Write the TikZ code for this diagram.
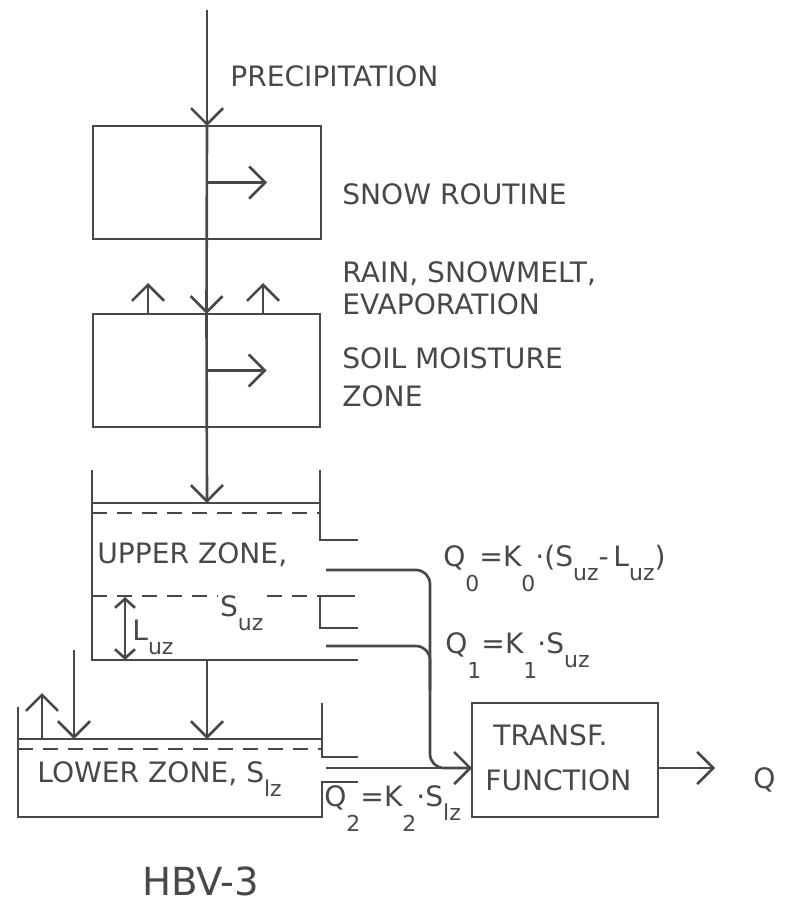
\documentclass[tikz,border=0pt]{standalone}
\usepackage{fontspec}
\setmainfont{DejaVu Sans}
\usetikzlibrary{arrows.meta,calc}
\definecolor{ink}{HTML}{484848}
\newcommand{\lowsub}[1]{\raisebox{-2.8mm}{\fontsize{12.5}{13}\selectfont #1}}
\newcommand{\numsub}[1]{\raisebox{-5mm}{\fontsize{12.5}{13}\selectfont #1}}
\tikzset{
  wall/.style={draw=ink, line width=1.5pt},
  level/.style={draw=ink, line width=1.2pt, dash pattern=on 3mm off 2mm},
  flow/.style={wall, -{Straight Barb[length=3.2mm, width=6.4mm]}},
  gauge/.style={wall, {Straight Barb[length=1.8mm, width=4mm]}-{Straight Barb[length=1.8mm, width=4mm]}},
  pipe/.style={wall, rounded corners=2.8mm},
  box/.style={wall, rectangle, inner sep=0pt, outer sep=0pt},
  lbl/.style={text=ink, font=\fontsize{16}{19}\selectfont, anchor=base west, inner sep=0pt}
}

\begin{document}
\begin{tikzpicture}[x=0.2mm, y=-0.2mm]
    \useasboundingbox (0,0) rectangle (784,908);

    \node[box, minimum width=45.6mm, minimum height=22.6mm] (snow) at (207,182.5) {};
    \node[box, minimum width=45.4mm, minimum height=22.6mm] (soil) at (206.5,370.5) {};
    \node[box, minimum width=37.2mm, minimum height=22.8mm] (transf) at (565,760) {};

    \coordinate (rain) at (207,10);
    \coordinate (snowout) at ($(snow.center)+(60,0)$);
    \coordinate (soilout) at ($(soil.center)+(60,0)$);
    \coordinate (evapA) at (148,283);
    \coordinate (evapB) at (263,283);
    \coordinate (uzsurf) at (207,503);
    \coordinate (uzbot) at (207,660);
    \coordinate (lzsurf) at (207,739);
    \coordinate (lzevap) at (42,693);
    \coordinate (lzin) at (74,650);
    \coordinate (luztop) at (125,597);
    \coordinate (luzbot) at (125,660);
    \coordinate (q0out) at (326,570);
    \coordinate (q1out) at (326,646);
    \coordinate (q2out) at (326,768);
    \coordinate (join) at (430,768);
    \coordinate (q1join) at (430,690);
    \coordinate (qout) at (715,768);

    \draw[flow] (rain) -- (snow.north);
    \draw[flow] (snow.north) -- (soil.north);
    \draw[flow] (soil.north) -- (uzsurf);
    \draw[flow] (snow.center) -- (snowout);
    \draw[flow] (soil.center) -- (soilout);
    \draw[flow] (soil.north -| evapA) -- (evapA);
    \draw[flow] (soil.north -| evapB) -- (evapB);

    \draw[wall] (92,470) -- (92,660) -- (358,660);
    \draw[wall] (320,470) -- (320,540) -- (358,540);
    \draw[wall] (92,503) -- (320,503);
    \draw[level] (92,513) -- (320,513);
    \draw[level] (92,596) -- (320,596);
    \draw[wall] (355,596) -- (320,596) -- (320,628) -- (358,628);
    \draw[gauge] (luztop) -- (luzbot);

    \draw[wall] (18,707) -- (18,817) -- (322,817) -- (322,782) -- (358,782);
    \draw[wall] (322,703) -- (322,757) -- (358,757);
    \draw[wall] (18,739) -- (322,739);
    \draw[level] (18,749) -- (322,749);
    \draw[flow] (uzbot) -- (lzsurf);
    \draw[flow] (lzsurf -| lzevap) -- (lzevap);
    \draw[flow] (lzin) -- (lzsurf -| lzin);

    \draw[pipe] (q0out) -| (join) -- (q2out -| transf.west);
    \draw[pipe] (q1out) -| (q1join);
    \draw[flow] (q2out) -- (q2out -| transf.west);
    \draw[flow] (transf.east |- qout) -- (qout);

    \node[lbl] (precip) at (230,87) {PRECIPITATION};
    \node[lbl] (snowlbl) at (342,205) {SNOW ROUTINE};
    \node[lbl] (rainlbl) at (342,283) {RAIN, SNOWMELT,};
    \node[lbl] (evaplbl) at (342,314) {EVAPORATION};
    \node[lbl] (soillbl) at (342,368) {SOIL MOISTURE};
    \node[lbl] (zonelbl) at (342,406) {ZONE};
    \node[lbl] (uzlbl) at (97,563) {UPPER ZONE,};
    \node[lbl, fill=white, inner sep=1pt] (suz) at (218,616) {S\lowsub{uz}};
    \node[lbl] (luz) at (132,640) {L\lowsub{uz}};
    \node[lbl] (q0lbl) at (443,566) {Q\numsub{0}=K\numsub{0}·(S\lowsub{uz}-\,L\lowsub{uz})};
    \node[lbl] (q1lbl) at (445,653) {Q\numsub{1}=K\numsub{1}·S\lowsub{uz}};
    \node[lbl] (lzlbl) at (37,782) {LOWER ZONE, S\lowsub{lz}};
    \node[lbl] (q2lbl) at (324,806) {Q\numsub{2}=K\numsub{2}·S\lowsub{lz}};
    \node[lbl] (tflbl) at (493,745) {TRANSF.};
    \node[lbl] (fnlbl) at (485,790) {FUNCTION};
    \node[lbl] (qlbl) at (753,788) {Q};
    \node[lbl, font=\fontsize{22}{26}\selectfont] (model) at (142,895) {HBV-3};
\end{tikzpicture}
\end{document}
